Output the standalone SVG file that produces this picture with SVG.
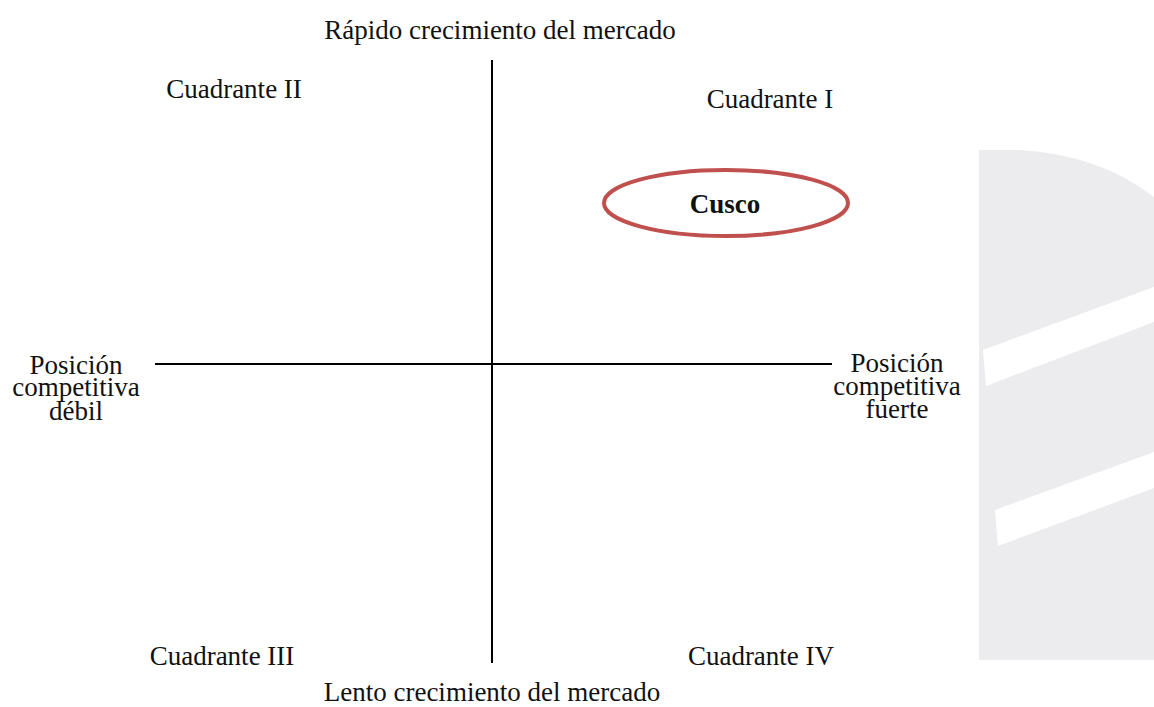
<svg xmlns="http://www.w3.org/2000/svg" width="1154" height="707" viewBox="0 0 1154 707">
<style>
text{font-family:"Liberation Serif","Times New Roman",serif;font-size:27px;fill:#111;text-anchor:middle;}
.axis{stroke:#000;stroke-width:2;fill:none;}
.wm{fill:#ececee;}
.stripe{fill:#fff;}
</style>
<rect width="1154" height="707" fill="#fff"/>
<g id="watermark">
<path class="wm" d="M979,150 L1020,150 Q1100,155 1154,197 L1154,660 L979,660 Z"/>
<polygon class="stripe" points="983,350 1154,287 1154,322 986,386"/>
<polygon class="stripe" points="995,510 1154,452 1154,488 998,546"/>
</g>
<g id="connectors">
<line class="axis" x1="492" y1="60" x2="492" y2="663"/>
<line class="axis" x1="155" y1="364" x2="832" y2="364"/>
</g>
<g id="top-label"><text x="500" y="39">Rápido crecimiento del mercado</text></g>
<g id="bottom-label"><text x="492" y="701">Lento crecimiento del mercado</text></g>
<g id="q2"><text x="234" y="98">Cuadrante II</text></g>
<g id="q1"><text x="770" y="108">Cuadrante I</text></g>
<g id="q3"><text x="222" y="665">Cuadrante III</text></g>
<g id="q4"><text x="761" y="665">Cuadrante IV</text></g>
<g id="left-label">
<text x="76" y="374">Posición</text>
<text x="76" y="396">competitiva</text>
<text x="76" y="420">débil</text>
</g>
<g id="right-label">
<text x="897" y="372">Posición</text>
<text x="897" y="395">competitiva</text>
<text x="897" y="418">fuerte</text>
</g>
<g id="cusco">
<ellipse cx="726" cy="203" rx="122" ry="33" fill="none" stroke="#c0504d" stroke-width="4"/>
<text x="725" y="213" font-weight="bold" font-size="29">Cusco</text>
</g>
</svg>
